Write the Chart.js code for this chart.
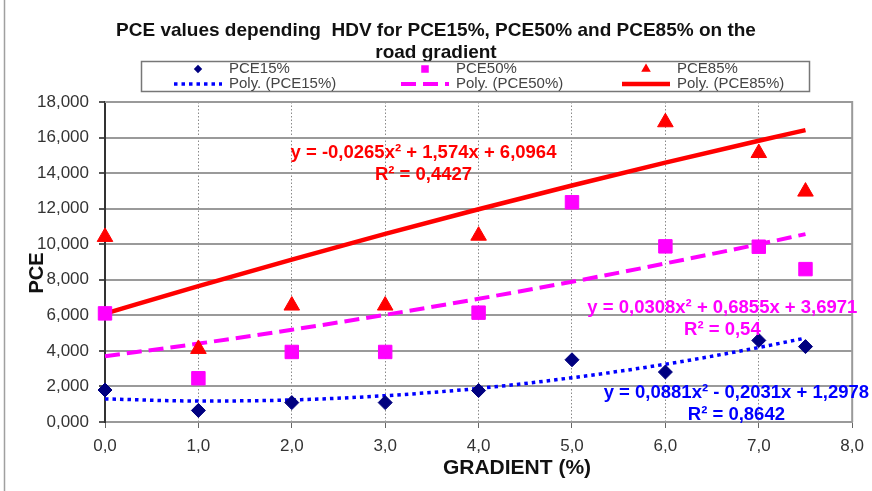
<!DOCTYPE html>
<html>
<head>
<meta charset="utf-8">
<script src="https://cdn.jsdelivr.net/npm/chart.js@4.4.1/dist/chart.umd.min.js"></script>
<style>
  html, body { margin: 0; padding: 0; background: #fff; }
  #wrap { width: 872px; height: 491px; }
</style>
</head>
<body>
<div id="wrap"><canvas id="chart"></canvas></div>
<script>
// Values (gradient in %, PCE)
const gradient = [0, 1, 2, 3, 4, 5, 6, 7, 7.5];
const pce15 = [1.8, 0.65, 1.09, 1.09, 1.77, 3.5, 2.81, 4.59, 4.24];
const pce50 = [6.11, 2.46, 3.94, 3.94, 6.15, 12.36, 9.88, 9.86, 8.6];
const pce85 = [10.41, 4.11, 6.55, 6.55, 10.48, null, 16.86, 15.13, 12.96];

// Trend curves as drawn (Poly.)
const poly15 = [1.3, 1.18, 1.24, 1.48, 1.89, 2.49, 3.25, 4.19, 4.72];
const poly50 = [3.7, 4.41, 5.19, 6.03, 6.93, 7.89, 8.92, 10.0, 10.57];
const poly85 = [6.1, 7.64, 9.13, 10.58, 11.97, 13.3, 14.59, 15.82, 16.42];

const titleLines = ['PCE values depending  HDV for PCE15%, PCE50% and PCE85% on the', 'road gradient'];
const equations = [
    { lines: ['y = -0,0265x² + 1,574x + 6,0964', 'R² = 0,4427'], color: '#FF0000', x: 3.41, y: 15.13 },
    { lines: ['y = 0,0308x² + 0,6855x + 3,6971', 'R² = 0,54'], color: '#FF00FF', x: 6.61, y: 6.41 },
    { lines: ['y = 0,0881x² - 0,2031x + 1,2978', 'R² = 0,8642'], color: '#0000FF', x: 6.76, y: 1.63 }
];

const FONT = "'Liberation Sans', Arial, sans-serif";
const comma = (v, d) => v.toFixed(d).replace('.', ',');
const pts = (ys) => gradient.map((x, i) => ({ x: x, y: ys[i] })).filter(p => p.y !== null);

const markerSet = (label, ys, color, style, r) => ({
    type: 'scatter',
    label: label,
    data: pts(ys),
    pointStyle: style,
    pointRadius: r,
    pointHoverRadius: r,
    backgroundColor: color,
    borderColor: color,
    borderWidth: 1,
    clip: false,
    order: 1
});

const trendSet = (label, ys, color, width, dash) => ({
    type: 'line',
    label: label,
    data: pts(ys),
    borderColor: color,
    backgroundColor: color,
    borderWidth: width,
    borderDash: dash,
    pointRadius: 0,
    cubicInterpolationMode: 'monotone',
    fill: false,
    clip: false,
    order: 2
});

const datasets = [
    markerSet('PCE15%', pce15, '#000080', 'rectRot', 7),
    markerSet('PCE50%', pce50, '#FF00FF', 'rect', 9.5),
    markerSet('PCE85%', pce85, '#FF0000', 'triangle', 9),
    trendSet('Poly. (PCE15%)', poly15, '#0000FF', 3.5, [3.5, 4]),
    trendSet('Poly. (PCE50%)', poly50, '#FF00FF', 4, [15, 7]),
    trendSet('Poly. (PCE85%)', poly85, '#FF0000', 4.5, [])
];

const decorations = {
    id: 'decorations',
    beforeDraw(chart) {
        const ctx = chart.ctx;
        ctx.save();
        ctx.fillStyle = '#fff';
        ctx.fillRect(0, 0, chart.width, chart.height);
        ctx.strokeStyle = '#a0a0a0';
        ctx.lineWidth = 1.5;
        ctx.beginPath();
        ctx.moveTo(4.5, 0);
        ctx.lineTo(4.5, chart.height);
        ctx.stroke();
        ctx.restore();
    },
    beforeDatasetsDraw(chart) {
        const { ctx, chartArea: a } = chart;
        ctx.save();
        ctx.strokeStyle = '#9a9a9a';
        ctx.lineWidth = 2;
        ctx.beginPath();
        ctx.moveTo(a.left, a.top);
        ctx.lineTo(a.right, a.top);
        ctx.lineTo(a.right, a.bottom);
        ctx.stroke();
        ctx.restore();
    },
    afterDraw(chart) {
        const { ctx, scales } = chart;
        ctx.save();

        // title
        ctx.fillStyle = '#111';
        ctx.font = 'bold 19px ' + FONT;
        ctx.textAlign = 'center';
        ctx.textBaseline = 'middle';
        ctx.fillText(titleLines[0], 436, 31);
        ctx.fillText(titleLines[1], 436, 53);

        // legend box
        ctx.fillStyle = '#fff';
        ctx.fillRect(141.5, 61.5, 668, 30);
        ctx.strokeStyle = '#777';
        ctx.lineWidth = 1.5;
        ctx.strokeRect(141.5, 61.5, 668, 30);

        const cols = [198, 425, 646];
        ctx.font = '15px ' + FONT;
        ctx.textAlign = 'left';
        for (let i = 0; i < 3; i++) {
            const m = chart.data.datasets[i];
            const t = chart.data.datasets[i + 3];
            ctx.fillStyle = m.backgroundColor;
            ctx.strokeStyle = m.borderColor;
            Chart.helpers.drawPoint(ctx, {
                pointStyle: m.pointStyle,
                radius: m.pointRadius * 0.45,
                rotation: 0,
                borderWidth: 1
            }, cols[i], 69);

            ctx.save();
            ctx.strokeStyle = t.borderColor;
            ctx.lineWidth = t.borderWidth;
            ctx.setLineDash(t.borderDash);
            ctx.beginPath();
            ctx.moveTo(cols[i] - 24, 84);
            ctx.lineTo(cols[i] + 24, 84);
            ctx.stroke();
            ctx.restore();

            ctx.fillStyle = '#444';
            ctx.fillText(m.label, cols[i] + 31, 69);
            ctx.fillText(t.label, cols[i] + 31, 84);
        }

        // axis titles
        ctx.fillStyle = '#111';
        ctx.font = 'bold 21px ' + FONT;
        ctx.textAlign = 'center';
        ctx.fillText('GRADIENT (%)', 517, 468);
        ctx.save();
        ctx.translate(37, 273);
        ctx.rotate(-Math.PI / 2);
        ctx.font = 'bold 20px ' + FONT;
        ctx.fillText('PCE', 0, 0);
        ctx.restore();

        // trendline equations
        ctx.font = 'bold 18.5px ' + FONT;
        equations.forEach(eq => {
            const px = scales.x.getPixelForValue(eq.x);
            const py = scales.y.getPixelForValue(eq.y);
            ctx.fillStyle = eq.color;
            eq.lines.forEach((line, k) => ctx.fillText(line, px, py + k * 21.5));
        });

        ctx.restore();
    }
};

new Chart(document.getElementById('chart'), {
    type: 'scatter',
    data: { datasets: datasets },
    options: {
        responsive: true,
        maintainAspectRatio: false,
        animation: false,
        layout: { padding: { top: 102, right: 19, bottom: 0, left: 0 } },
        plugins: {
            legend: { display: false },
            title: { display: false },
            tooltip: { enabled: false }
        },
        scales: {
            x: {
                type: 'linear',
                min: 0,
                max: 8,
                afterFit: (s) => { s.height = 69; },
                ticks: {
                    stepSize: 1,
                    padding: 8,
                    color: '#333',
                    font: { family: FONT, size: 17 },
                    callback: (v) => comma(v, 1)
                },
                grid: { color: '#8a8a8a', lineWidth: 1, tickLength: 6, tickColor: '#666' },
                border: { color: '#9a9a9a', width: 2, dash: [1.5, 2] }
            },
            y: {
                min: 0,
                max: 18,
                afterFit: (s) => { s.width = 105; },
                ticks: {
                    stepSize: 2,
                    padding: 10,
                    color: '#333',
                    font: { family: FONT, size: 17 },
                    callback: (v) => comma(v, 3)
                },
                grid: { color: '#9a9a9a', lineWidth: 2, tickLength: 6, tickColor: '#555' },
                border: { color: '#333', width: 2 }
            }
        }
    },
    plugins: [decorations]
});
</script>
</body>
</html>
